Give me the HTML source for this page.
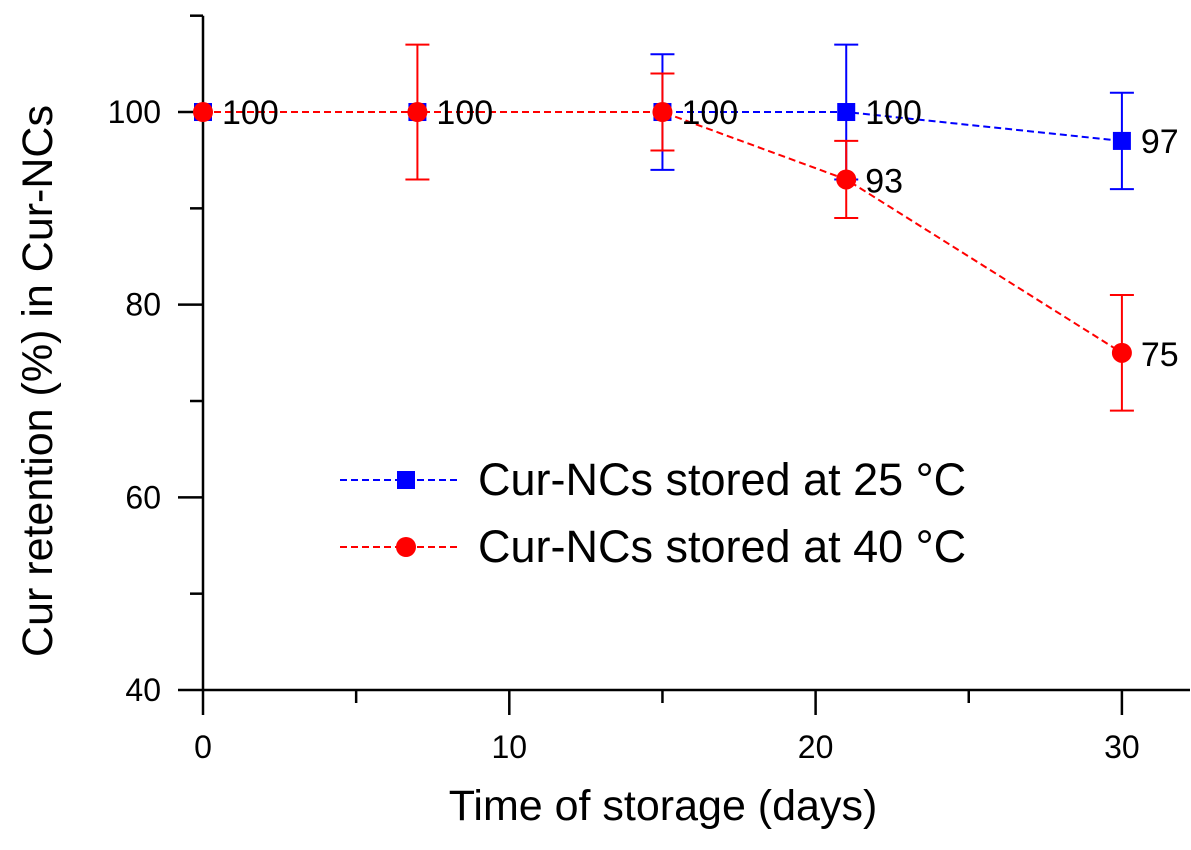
<!DOCTYPE html>
<html><head><meta charset="utf-8"><style>
body{margin:0;background:#fff;}
svg{display:block;font-family:"Liberation Sans",Arial,sans-serif;}
</style></head><body>
<svg id="chart" width="1191" height="850" viewBox="0 0 1191 850" xmlns="http://www.w3.org/2000/svg"></svg>
<script>
const days = [0, 7, 15, 21, 30];
const series25 = [100, 100, 100, 100, 97];
const err25 = [0, 0, 6, 7, 5];
const series40 = [100, 100, 100, 93, 75];
const err40 = [0, 7, 4, 4, 6];
const labels25 = ["100", "100", "100", "100", "97"];
const labels40 = ["", "", "", "93", "75"];
const xTicks = [0, 10, 20, 30];
const xMinor = [5, 15, 25];
const yTicks = [40, 60, 80, 100];
const yMinor = [50, 70, 90, 110];

const svg = document.getElementById('chart');
const NS = 'http://www.w3.org/2000/svg';
const X = d => 203 + d * 30.63;
const Y = v => 690 - (v - 40) * 9.633;
function mk(tag, attrs, parent) {
  const e = document.createElementNS(NS, tag);
  for (const k in attrs) e.setAttribute(k, attrs[k]);
  (parent || svg).appendChild(e);
  return e;
}
const AX = X(0);
let a = mk('line', {x1:AX, y1:Y(110), x2:AX, y2:691, stroke:'#000', 'stroke-width':2.5});


a = mk('line', {x1:AX-1, y1:690, x2:1190, y2:690, stroke:'#000', 'stroke-width':2.5});


xTicks.forEach(t => {
  mk('line', {x1:X(t), y1:690, x2:X(t), y2:715, stroke:'#000', 'stroke-width':2.5});
  const tx = mk('text', {x:X(t), y:758, 'font-size':32, 'text-anchor':'middle'});
  tx.textContent = t;
  
  
});
xMinor.forEach(t => mk('line', {x1:X(t), y1:690, x2:X(t), y2:703, stroke:'#000', 'stroke-width':2.5}));
yTicks.forEach(t => {
  mk('line', {x1:AX-25, y1:Y(t), x2:AX, y2:Y(t), stroke:'#000', 'stroke-width':2.5});
  const tx = mk('text', {x:161, y:Y(t)+11, 'font-size':32, 'text-anchor':'end'});
  tx.textContent = t;
  
  
});
yMinor.forEach(t => mk('line', {x1:AX-13, y1:Y(t), x2:AX, y2:Y(t), stroke:'#000', 'stroke-width':2.5}));
let t = mk('text', {x:663, y:820, 'font-size':43, 'text-anchor':'middle'});
t.textContent = 'Time of storage (days)';


t = mk('text', {x:0, y:0, 'font-size':43, 'text-anchor':'middle', transform:'translate(52,381) rotate(-90)'});
t.textContent = 'Cur retention (%) in Cur-NCs';



function drawSeries(vals, errs, color, shape, name) {
  const g = mk('g', {});
  
  
  mk('polyline', {points: days.map((d,i)=>X(d)+','+Y(vals[i])).join(' '), fill:'none', stroke:color, 'stroke-width':2, 'stroke-dasharray':'7,4'}, g);
  days.forEach((d,i) => {
    if (errs[i] > 0) {
      const x = X(d), y1 = Y(vals[i]+errs[i]), y2 = Y(vals[i]-errs[i]);
      mk('line', {x1:x, y1:y1, x2:x, y2:y2, stroke:color, 'stroke-width':2}, g);
      mk('line', {x1:x-12, y1:y1, x2:x+12, y2:y1, stroke:color, 'stroke-width':2}, g);
      mk('line', {x1:x-12, y1:y2, x2:x+12, y2:y2, stroke:color, 'stroke-width':2}, g);
    }
    let m;
    if (shape === 'sq') m = mk('rect', {x:X(d)-9, y:Y(vals[i])-9, width:18, height:18, fill:color}, g);
    else m = mk('circle', {cx:X(d), cy:Y(vals[i]), r:10, fill:color}, g);
    
    
  });
}
drawSeries(series25, err25, '#0000ff', 'sq', 'series-25c');
drawSeries(series40, err40, '#ff0000', 'ci', 'series-40c');
days.forEach((d,i) => {
  if (labels25[i]) {
    const tx = mk('text', {x:X(d)+19, y:Y(series25[i])+12, 'font-size':34});
    tx.textContent = labels25[i];
    
    
  }
  if (labels40[i]) {
    const tx = mk('text', {x:X(d)+19, y:Y(series40[i])+13, 'font-size':34});
    tx.textContent = labels40[i];
    
    
  }
});
const lg = mk('g', {});


[['#0000ff','sq','Cur-NCs stored at 25 °C',480],['#ff0000','ci','Cur-NCs stored at 40 °C',547]].forEach(r => {
  mk('line', {x1:340, y1:r[3], x2:458, y2:r[3], stroke:r[0], 'stroke-width':2, 'stroke-dasharray':'7,4'}, lg);
  if (r[1]==='sq') mk('rect', {x:397, y:r[3]-9, width:18, height:18, fill:r[0]}, lg);
  else mk('circle', {cx:406, cy:r[3], r:10, fill:r[0]}, lg);
  const tx = mk('text', {x:478, y:r[3]+15, 'font-size':45}, lg);
  tx.textContent = r[2];
  
  
});
</script>
</body></html>
